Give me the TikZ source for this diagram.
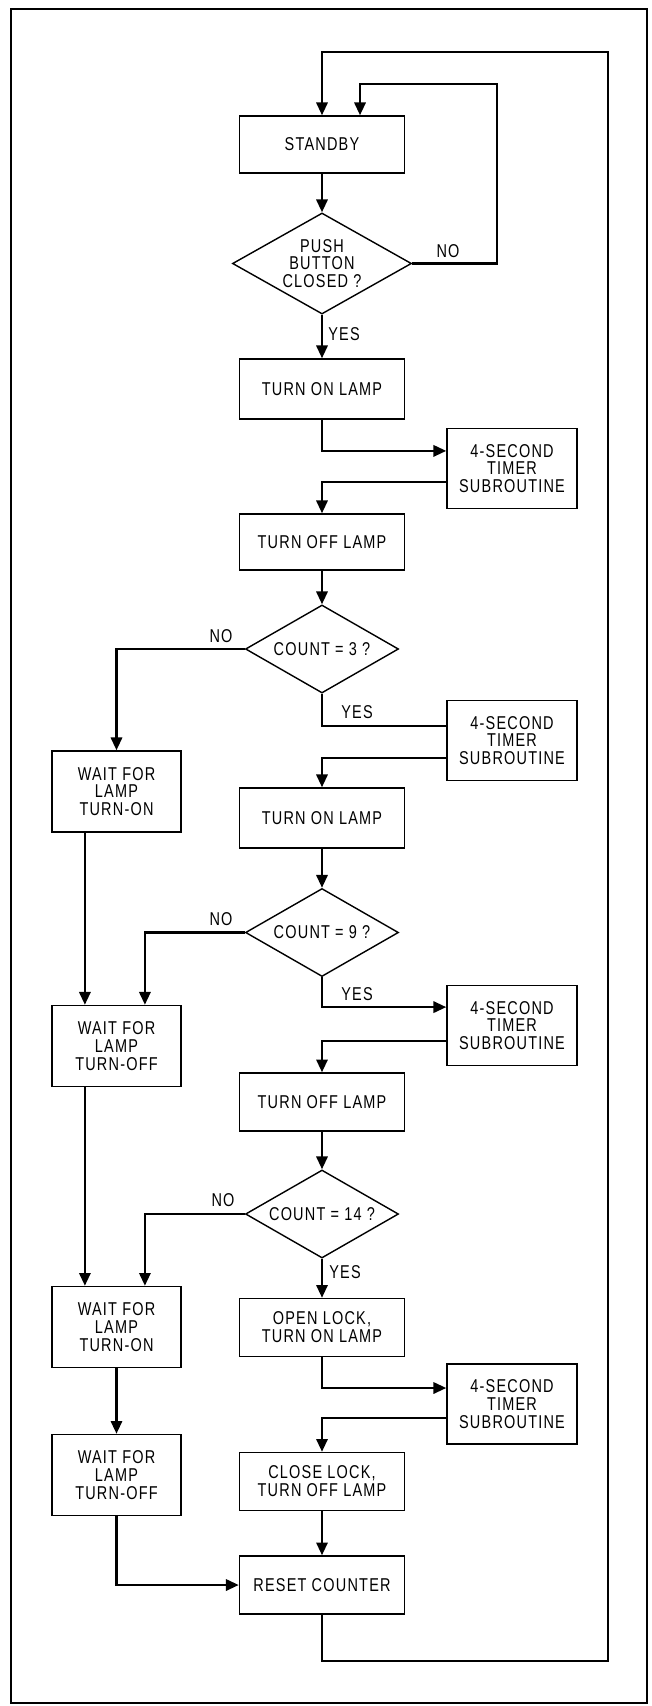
\documentclass[tikz,border=0pt]{standalone}
\usepackage{fontspec}
\setmainfont{Liberation Sans}[FakeStretch=0.78,LetterSpace=6.5]
\usetikzlibrary{shapes.geometric,arrows.meta}

\begin{document}
\begin{tikzpicture}[x=0.025cm,y=-0.025cm,font={\fontsize{13.2}{12.7}\selectfont},
  bx/.style={draw,line width=1pt,minimum width=4.125cm,minimum height=1.45cm,inner sep=0pt,align=center},
  tm/.style={draw,line width=1pt,minimum width=3.25cm,minimum height=2cm,inner sep=0pt,align=center},
  wt/.style={draw,line width=1pt,minimum width=3.225cm,minimum height=2.025cm,inner sep=0pt,align=center},
  dm/.style={draw,diamond,aspect=1.75,line width=1pt,minimum width=3.825cm,minimum height=2.2cm,inner sep=0pt,align=center},
  lb/.style={inner sep=0pt},
  ln/.style={line width=1.8pt},
  ar/.style={ln,-{Triangle[length=3.2mm,width=2.8mm]}}]
  \useasboundingbox (0,0) rectangle (652,1706);
  \draw[line width=0.8pt] (11,9) rectangle (647,1703);

  \node[bx,minimum height=1.425cm] (sb) at (322,144.5) {STANDBY};
  \node[dm,aspect=1.77,minimum width=4.475cm,minimum height=2.525cm] (q1) at (322,263.5) {PUSH\\BUTTON\\CLOSED ?};
  \node[bx,minimum height=1.5cm] (tol1) at (322,389) {TURN ON LAMP};
  \node[tm] (t1) at (512,468.5) {4-SECOND\\TIMER\\SUBROUTINE};
  \node[bx,minimum height=1.4cm] (toff1) at (322,542) {TURN OFF LAMP};
  \node[dm] (q3) at (322,649) {COUNT = 3 ?};
  \node[tm] (t2) at (512,740.5) {4-SECOND\\TIMER\\SUBROUTINE};
  \node[bx,minimum height=1.5cm] (tol2) at (322,818) {TURN ON LAMP};
  \node[dm] (q9) at (322,932.5) {COUNT = 9 ?};
  \node[tm] (t3) at (512,1025.5) {4-SECOND\\TIMER\\SUBROUTINE};
  \node[bx] (toff2) at (322,1102) {TURN OFF LAMP};
  \node[dm] (q14) at (322,1214) {COUNT = 14 ?};
  \node[bx] (open) at (322,1327.5) {OPEN LOCK,\\TURN ON LAMP};
  \node[tm] (t4) at (512,1404) {4-SECOND\\TIMER\\SUBROUTINE};
  \node[bx] (close) at (322,1481.5) {CLOSE LOCK,\\TURN OFF LAMP};
  \node[bx] (rst) at (322,1585) {RESET COUNTER};

  \node[wt] (w1) at (116.5,791.5) {WAIT FOR\\LAMP\\TURN-ON};
  \node[wt] (w2) at (116.5,1046) {WAIT FOR\\LAMP\\TURN-OFF};
  \node[wt] (w3) at (116.5,1327) {WAIT FOR\\LAMP\\TURN-ON};
  \node[wt] (w4) at (116.5,1475) {WAIT FOR\\LAMP\\TURN-OFF};

  \node[lb] (no1) at (448,251) {NO};
  \node[lb] (yes1) at (344,334) {YES};
  \node[lb] (no3) at (221,636) {NO};
  \node[lb] (yes3) at (357,712) {YES};
  \node[lb] (no9) at (221,919.5) {NO};
  \node[lb] (yes9) at (357,994) {YES};
  \node[lb] (no14) at (223,1200) {NO};
  \node[lb] (yes14) at (345,1272) {YES};

  \coordinate (ltop) at (497,84);
  \coordinate (rtop) at (608,52);
  \coordinate (rbot) at (608,1661);

  \draw[ar] (sb.south) -- (q1.north);
  \draw[ar] (q1.east) -| (ltop) -| ([xshift=0.95cm]sb.north);
  \draw[ar] (rst.south) |- (rbot) -- (rtop) -| (sb.north);
  \draw[ar] (q1.south) -- (tol1.north);
  \draw[ar] (tol1.south) |- ([yshift=4.4mm]t1.west);
  \draw[ar] ([yshift=-3.4mm]t1.west) -| (toff1.north);
  \draw[ar] (toff1.south) -- (q3.north);
  \draw[ln] (q3.south) |- ([yshift=3.6mm]t2.west);
  \draw[ar] ([yshift=-4.4mm]t2.west) -| (tol2.north);
  \draw[ar] (tol2.south) -- (q9.north);
  \draw[ar] (q9.south) |- ([yshift=4.6mm]t3.west);
  \draw[ar] ([yshift=-3.9mm]t3.west) -| (toff2.north);
  \draw[ar] (toff2.south) -- (q14.north);
  \draw[ar] (q14.south) -- (open.north);
  \draw[ar] (open.south) |- ([yshift=4mm]t4.west);
  \draw[ar] ([yshift=-3.5mm]t4.west) -| (close.north);
  \draw[ar] (close.south) -- (rst.north);

  \draw[ar] (q3.west) -| (w1.north);
  \draw[ar] ([xshift=-7.9mm]w1.south) -- ([xshift=-7.9mm]w2.north);
  \draw[ar] (q9.west) -| ([xshift=7.1mm]w2.north);
  \draw[ar] ([xshift=-7.9mm]w2.south) -- ([xshift=-7.9mm]w3.north);
  \draw[ar] (q14.west) -| ([xshift=7.1mm]w3.north);
  \draw[ar] (w3.south) -- (w4.north);
  \draw[ar] (w4.south) |- (rst.west);
\end{tikzpicture}
\end{document}
